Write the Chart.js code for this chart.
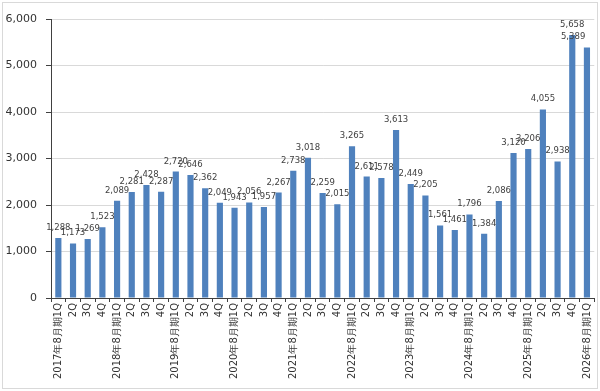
<!DOCTYPE html>
<html>
<head>
<meta charset="utf-8">
<script src="https://cdn.jsdelivr.net/npm/chart.js@4/dist/chart.umd.min.js"></script>
<style>
  html, body { margin: 0; padding: 0; background: #fff; }
  #wrap  { position: relative; width: 600px; height: 391px; }
  #frame { position: absolute; left: 2px; top: 2px; width: 594px; height: 385px;
           border: 1px solid #d9d9d9; pointer-events: none; }
</style>
</head>
<body>
<div id="wrap">
  <canvas id="salesChart" width="600" height="391"></canvas>
  <div id="frame"></div>
</div>
<script>
/* ---- data ---- */
const quarters = [
  '2017年8月期1Q', '2Q', '3Q', '4Q',
  '2018年8月期1Q', '2Q', '3Q', '4Q',
  '2019年8月期1Q', '2Q', '3Q', '4Q',
  '2020年8月期1Q', '2Q', '3Q', '4Q',
  '2021年8月期1Q', '2Q', '3Q', '4Q',
  '2022年8月期1Q', '2Q', '3Q', '4Q',
  '2023年8月期1Q', '2Q', '3Q', '4Q',
  '2024年8月期1Q', '2Q', '3Q', '4Q',
  '2025年8月期1Q', '2Q', '3Q', '4Q',
  '2026年8月期1Q'
];
const values = [
  1288, 1173, 1269, 1523,
  2089, 2281, 2428, 2287,
  2720, 2646, 2362, 2049,
  1943, 2056, 1957, 2267,
  2738, 3018, 2259, 2015,
  3265, 2611, 2578, 3613,
  2449, 2205, 1561, 1461,
  1796, 1384, 2086, 3120,
  3206, 4055, 2938, 5658,
  5389
];
const yTicks = [0, 1000, 2000, 3000, 4000, 5000, 6000];

const fmt = v => v.toLocaleString('en-US');

/** value labels above each bar, kept inside the plot on the right */
const barLabels = {
  id: 'barLabels',
  afterDatasetsDraw(chart) {
    const ctx  = chart.ctx;
    const meta = chart.getDatasetMeta(0);
    ctx.save();
    ctx.font = '8.5px "DejaVu Sans"';
    ctx.fillStyle = '#404040';
    ctx.textAlign = 'center';
    ctx.textBaseline = 'alphabetic';
    meta.data.forEach((bar, i) => {
      const txt = fmt(values[i]);
      const w   = ctx.measureText(txt).width;
      const x   = Math.min(bar.x, chart.chartArea.right - 9 - w / 2);
      ctx.fillText(txt, x, bar.y - 8);
    });
    ctx.restore();
  }
};

new Chart(document.getElementById('salesChart'), {
  type: 'bar',
  data: {
    labels: quarters,
    datasets: [{
      data: values,
      backgroundColor: '#4f81bd',
      borderWidth: 0,
      categoryPercentage: 1,
      barPercentage: 0.42
    }]
  },
  options: {
    responsive: false,
    animation: false,
    layout: { padding: { top: 19, right: 4, left: 0, bottom: 0 } },
    plugins: { legend: { display: false }, tooltip: { enabled: false } },
    scales: {
      x: {
        afterFit: s => { s.height = 93; },
        grid: { drawOnChartArea: false, tickLength: 4, color: '#404040', offset: true },
        border: { color: '#404040', width: 1 },
        ticks: {
          color: '#333', font: { family: '"DejaVu Sans"', size: 10 },
          minRotation: 90, maxRotation: 90, autoSkip: false, padding: 1
        }
      },
      y: {
        min: 0, max: 6000,
        afterFit: s => { s.width = 51; },
        afterBuildTicks: s => { s.ticks = yTicks.map(v => ({ value: v })); },
        grid: { color: '#d9d9d9', tickColor: '#404040', tickLength: 5 },
        border: { color: '#404040', width: 1 },
        ticks: {
          color: '#333', font: { family: '"DejaVu Sans"', size: 11 },
          padding: 9, callback: v => fmt(v)
        }
      }
    }
  },
  plugins: [barLabels]
});
</script>
</body>
</html>
